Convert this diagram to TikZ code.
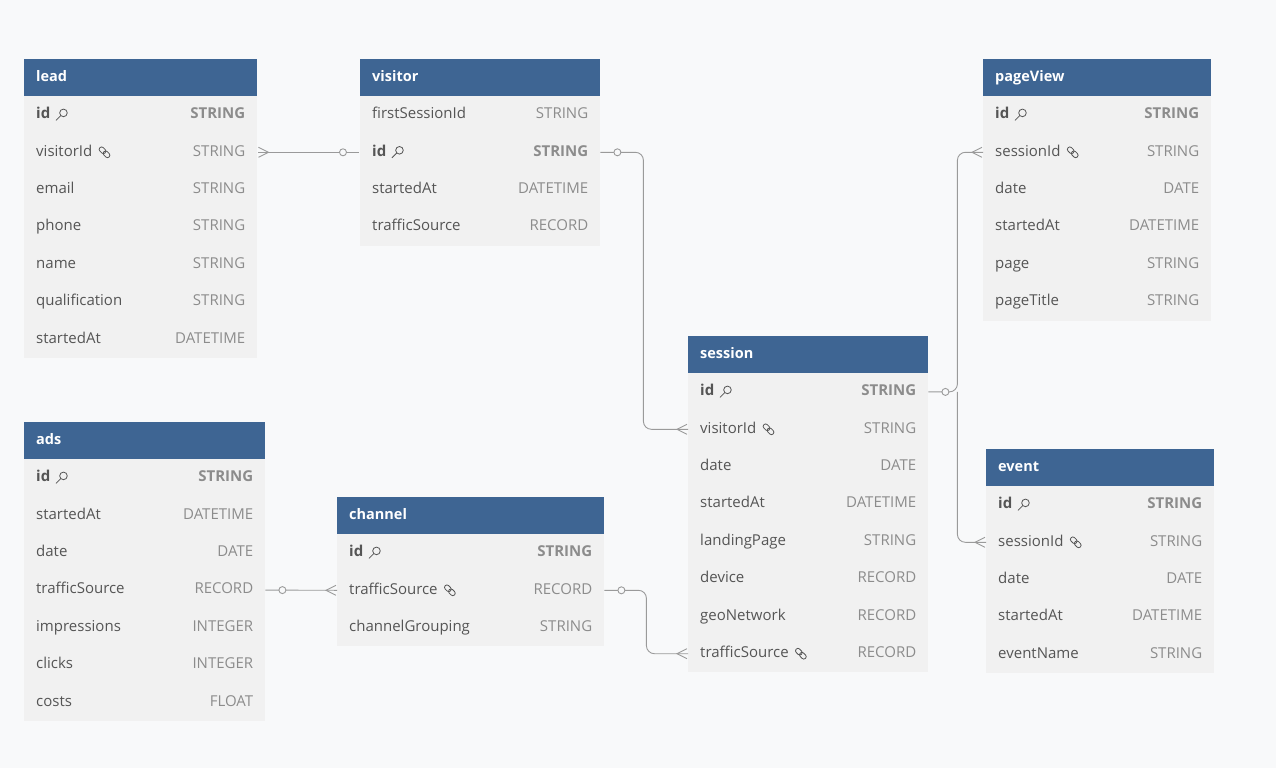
\documentclass[tikz,border=0pt]{standalone}
\usepackage{fontspec}
\setmainfont{Open Sans}
\usetikzlibrary{calc}
\definecolor{bg}{HTML}{F8F9FA}
\definecolor{hd}{HTML}{3E6593}
\definecolor{rw}{HTML}{F1F1F1}
\definecolor{nm}{HTML}{555555}
\definecolor{ty}{HTML}{8C8C8C}
\definecolor{ln}{HTML}{9A9A9A}
\tikzset{
  hdr/.style={fill=hd,draw=none,minimum height=37pt,inner sep=0pt,anchor=north west},
  row/.style={fill=rw,draw=none,minimum height=37.4pt,inner sep=0pt,anchor=north west},
  ttl/.style={text=white,font=\fontsize{14.5}{17}\selectfont\bfseries,anchor=west,inner sep=0pt,text height=10.5pt,text depth=3pt},
  nmt/.style={text=nm,font=\fontsize{15}{18}\selectfont,anchor=west,inner sep=0pt,text height=10.5pt,text depth=3pt},
  tyt/.style={text=ty,font=\fontsize{15}{18}\selectfont,anchor=east,inner sep=0pt,text height=10.5pt,text depth=3pt},
  conn/.style={draw=ln,line width=0.9pt},
  circ/.style={draw=ln,fill=bg,line width=0.9pt},
}
\newcommand\mktable[5]{%
  \node[hdr,minimum width=#4pt] (#1) at (#2,#3) {};
  \node[ttl] at ($(#1.west)+(12,0)$) {#1};
  \foreach \n/\t/\f [count=\i] in {#5} {
    \node[row,minimum width=#4pt] (#1-\i) at (#2,#3+37+\i*37.4-37.4) {};
    \ifnum\f=1
      \node[nmt,font=\fontsize{15}{18}\selectfont\bfseries] (#1-\i-n) at ($(#1-\i.west)+(12,0)$) {\n};
      \node[tyt,font=\fontsize{15}{18}\selectfont\bfseries] at ($(#1-\i.east)+(-12,0)$) {\t};
      \begin{scope}[shift={($(#1-\i-n.east)+(11,0)$)},draw=nm,line width=0.8pt]
        \draw (2,-2) circle (3.8);
        \draw (-0.7,0.7) -- (-5.5,5.5);
      \end{scope}
    \else
      \node[nmt] (#1-\i-n) at ($(#1-\i.west)+(12,0)$) {\n};
      \node[tyt] at ($(#1-\i.east)+(-12,0)$) {\t};
      \ifnum\f=2
      \begin{scope}[shift={($(#1-\i-n.east)+(12,0)$)},draw=nm,line width=0.8pt,rotate=-45]
        \draw[rounded corners=2.2pt] (-6.5,-2.4) rectangle (0.8,2.4);
        \draw[rounded corners=2.2pt] (-0.8,-2.4) rectangle (6.5,2.4);
      \end{scope}
      \fi
    \fi
  }%
}
\newcommand\crow[2]{%
  \draw[conn] ($(#1)+(#2*1,-5)$) -- ($(#1)+(#2*11,0)$) -- ($(#1)+(#2*1,5)$);}
\newcommand\ring[2]{%
  \draw[circ] ($(#1)+(#2*17,0)$) circle (3.5);}
\begin{document}
\begin{tikzpicture}[x=1pt,y=-1pt]
\fill[bg] (0,0) rectangle (1276,768);
\useasboundingbox (0,0) rectangle (1276,768);
\mktable{lead}{24}{59}{233}{id/STRING/1,visitorId/STRING/2,email/STRING/0,phone/STRING/0,name/STRING/0,qualification/STRING/0,startedAt/DATETIME/0}
\mktable{visitor}{360}{59}{240}{firstSessionId/STRING/0,id/STRING/1,startedAt/DATETIME/0,trafficSource/RECORD/0}
\mktable{pageView}{983}{59}{228}{id/STRING/1,sessionId/STRING/2,date/DATE/0,startedAt/DATETIME/0,page/STRING/0,pageTitle/STRING/0}
\mktable{session}{688}{336}{240}{id/STRING/1,visitorId/STRING/2,date/DATE/0,startedAt/DATETIME/0,landingPage/STRING/0,device/RECORD/0,geoNetwork/RECORD/0,trafficSource/RECORD/2}
\mktable{ads}{24}{422}{241}{id/STRING/1,startedAt/DATETIME/0,date/DATE/0,trafficSource/RECORD/0,impressions/INTEGER/0,clicks/INTEGER/0,costs/FLOAT/0}
\mktable{channel}{337}{497}{267}{id/STRING/1,trafficSource/RECORD/2,channelGrouping/STRING/0}
\mktable{event}{986}{449}{228}{id/STRING/1,sessionId/STRING/2,date/DATE/0,startedAt/DATETIME/0,eventName/STRING/0}
\draw[conn] ($(lead-2.east)+(1,0)$) -- ($(visitor-2.west)+(-1,0)$);
\crow{lead-2.east}{1}\ring{visitor-2.west}{-1}
\draw[conn,rounded corners=8pt] (visitor-2.east) -- ++(43,0) |- (session-2.west);
\ring{visitor-2.east}{1}\crow{session-2.west}{-1}
\draw[conn,rounded corners=8pt] (session-1.east) -- ++(29,0) |- (pageView-2.west);
\draw[conn,rounded corners=8pt] ($(session-1.east)+(29,0)$) |- (event-2.west);
\ring{session-1.east}{1}\crow{pageView-2.west}{-1}\crow{event-2.west}{-1}
\draw[conn,rounded corners=8pt] (channel-2.east) -- ++(42,0) |- (session-8.west);
\ring{channel-2.east}{1}\crow{session-8.west}{-1}
\draw[conn] (ads-4.east) -- (channel-2.west);
\ring{ads-4.east}{1}\crow{channel-2.west}{-1}
\end{tikzpicture}
\end{document}
